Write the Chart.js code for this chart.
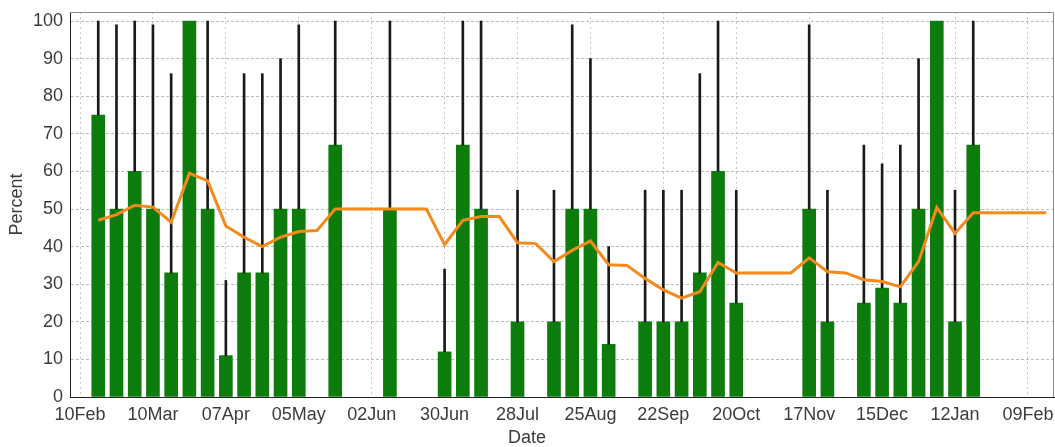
<!DOCTYPE html>
<html><head><meta charset="utf-8">
<script src="https://cdn.jsdelivr.net/npm/chart.js@4"></script>
<style>html,body{margin:0;padding:0;background:#fff}canvas{display:block}</style>
</head><body>
<canvas id="c" width="1055" height="447"></canvas>
<script>
// week index: 0 = 10Feb, 1 = 17Feb, ...
const barWeeks  = [1,2,3,4,5,6,7,8,9,10,11,12,14,17,20,21,22,24,26,27,28,29,31,32,33,34,35,36,40,41,43,44,45,46,47,48,49];
const barValues = [75,50,60,50,33,100,50,11,33,33,50,50,67,50,12,67,50,20,20,50,50,14,20,20,20,33,60,25,50,20,25,29,25,50,100,20,67];
const errorTops = [100,99,100,99,86,null,100,31,86,86,90,99,100,100,34,100,100,55,55,99,90,40,55,55,55,86,100,55,99,55,67,62,67,90,null,55,100];

const avgWeeks  = [1,2,3,4,5,6,7,8,9,10,11,12,13,14,15,16,17,18,19,20,21,22,23,24,25,26,27,28,29,30,31,32,33,34,35,36,37,38,39,40,41,42,43,44,45,46,47,48,49,50,51,52,53];
const avgValues = [47,48.5,51,50.5,46.5,59.5,57.5,45.5,42.5,40,42.5,44,44.3,50,50,50,50,50,50,40.5,47,48,48,41,40.8,36,39,41.5,35.2,35,31.5,28.5,26.3,28,35.8,33,33,33,33,37,33.3,33,31.2,30.7,29.3,36,50.4,43.5,49,49,49,49,49];

const xTickWeeks  = [0,4,8,12,16,20,24,28,32,36,40,44,48,52];
const xTickLabels = ['10Feb','10Mar','07Apr','05May','02Jun','30Jun','28Jul','25Aug','22Sep','20Oct','17Nov','15Dec','12Jan','09Feb'];
const yTicks = [0,10,20,30,40,50,60,70,80,90,100];

const barData = barWeeks.map((w, i) => ({x: w, y: barValues[i]}));
const errData = [];
barWeeks.forEach((w, i) => { if (errorTops[i] != null) errData.push({x: w, y: [barValues[i], errorTops[i]]}); });
const avgData = avgWeeks.map((w, i) => ({x: w, y: avgValues[i]}));

Chart.defaults.font.family = "'Liberation Sans', Arial, sans-serif";
Chart.defaults.font.size = 18;
Chart.defaults.color = '#3c3c3c';

const framePlugin = {
  id: 'frame',
  afterDraw(chart) {
    const {ctx, chartArea: a} = chart;
    ctx.save();
    ctx.strokeStyle = '#8a8a8a';
    ctx.lineWidth = 1;
    ctx.beginPath();
    ctx.moveTo(a.left, a.top + 0.5); ctx.lineTo(a.right - 0.5, a.top + 0.5); ctx.lineTo(a.right - 0.5, a.bottom);
    ctx.stroke();
    ctx.restore();
  }
};

new Chart(document.getElementById('c'), {
  type: 'bar',
  data: {
    datasets: [
      {type: 'line', data: avgData, borderColor: '#f48a1c', borderWidth: 3, pointRadius: 0, tension: 0, order: 1},
      {data: errData, backgroundColor: '#1a1a1a', barThickness: 2, grouped: false, order: 2},
      {data: barData, backgroundColor: '#0c7c0c', barThickness: 13, grouped: false, order: 3}
    ]
  },
  options: {
    responsive: false,
    animation: false,
    devicePixelRatio: 1,
    layout: {padding: {top: 12, right: 1, left: 0, bottom: 0}},
    plugins: {
      legend: {display: false},
      tooltip: {enabled: false},
      title: {display: true, text: 'Date', position: 'bottom', font: {size: 18, lineHeight: 1, weight: 'normal'}, padding: 0, color: '#3c3c3c'}
    },
    scales: {
      x: {
        type: 'linear', min: -0.55, max: 53.43, offset: false,
        grid: {color: '#c8c8c8', offset: false, drawTicks: false},
        border: {color: '#222', width: 1, dash: [2, 3]},
        ticks: {padding: 7, autoSkip: false, maxRotation: 0,
          callback: v => { const i = xTickWeeks.indexOf(v); return i >= 0 ? xTickLabels[i] : ''; }},
        afterBuildTicks: s => { s.ticks = xTickWeeks.map(v => ({value: v})); },
        afterFit: s => { s.height = 32; s.paddingLeft = 0; s.paddingRight = 0; }
      },
      y: {
        min: 0, max: 102.4,
        grid: {color: '#bdbdbd', drawTicks: false},
        border: {color: '#222', width: 1, dash: [3, 2]},
        ticks: {padding: 7},
        afterBuildTicks: s => { s.ticks = yTicks.map(v => ({value: v})); },
        afterFit: s => { s.width = 70; s.paddingTop = 0; s.paddingBottom = 0; },
        title: {display: true, text: 'Percent', font: {size: 18}, padding: {top: 6, bottom: 0}}
      }
    }
  },
  plugins: [framePlugin]
});
</script>
</body></html>
